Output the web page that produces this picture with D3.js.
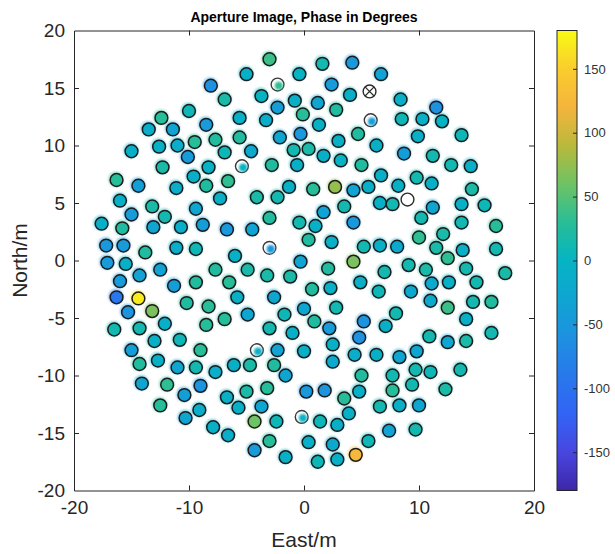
<!DOCTYPE html>
<html>
<head>
<meta charset="utf-8">
<script src="https://cdn.jsdelivr.net/npm/d3@7"></script>
<style>
  body { margin: 0; background: #fff; }
  text { font-family: "Liberation Sans", Arial, Helvetica, sans-serif; }
</style>
</head>
<body>
<svg id="chart" width="615" height="554"></svg>
<script>
// Antenna positions (metres east / north of array centre) and aperture phase (degrees)
const east = [
  -3.0, 1.6, 4.2, 6.7, -5.0, -0.4, 2.4, -3.7, 4.0, -8.1,
  -6.9, -0.8, -2.3, 1.2, -10.0, -12.4, -13.5, -11.4, -8.5, -11.0,
  -9.5, -7.7, -12.6, -15.0, -10.1, -12.3, -8.3, -9.6, -16.3, -14.4,
  -11.1, -8.5, -6.9, -6.6, -5.6, -3.3, -0.1, 2.8, 1.3, -5.6,
  -2.1, -0.3, 4.7, 3.0, 6.3, -4.6, -0.9, 0.4, 1.7, 3.2,
  5.0, -2.8, -0.6, -1.3, 0.8, 2.7, 4.3, 5.6, 8.4, 11.5,
  8.5, 10.3, 12.0, 13.7, 9.9, 8.7, 11.2, 12.8, 14.5, 6.7,
  9.8, 8.2, 11.1, 14.6, -7.3, -16.0, -13.2, -15.0, -12.1, -9.4,
  -17.6, -15.8, -13.1, -10.7, -8.8, -6.7, -17.2, -15.7, -13.8, -11.1,
  -9.4, -17.1, -15.5, -12.5, -7.7, -16.0, -14.3, -11.3, -9.4, -16.3,
  -14.4, -10.2, -13.2, -8.3, -15.3, -16.5, -14.3, -12.1, -8.5, -6.9,
  -13.0, -10.8, -4.1, -2.3, 3.5, 1.7, -3.0, -0.4, 1.0, 4.3,
  -4.5, 0.4, 2.4, 5.2, 6.6, -6.0, -0.3, 4.3, 2.1, -4.9,
  -3.2, -1.2, -6.5, 4.9, 0.7, 2.3, 6.5, -5.8, -2.6, -4.9,
  -1.7, 0.0, 2.8, 0.9, 5.2, -3.0, -1.0, 2.2, 4.8, 6.6,
  7.7, 11.2, 13.7, 15.7, 10.2, 13.7, 16.7, 10.0, 12.1, 8.1,
  11.5, 13.8, 16.7, 12.5, 9.1, 10.6, 14.1, 7.0, 17.5, 12.6,
  15.0, 11.1, 9.3, 11.0, 12.5, 14.7, 16.3, 8.0, 14.1, 7.1,
  10.9, 16.3, 12.5, 14.1, -15.0, -9.0, -14.3, -12.7, -11.0, -9.4,
  -7.7, -14.1, -11.9, -10.4, -9.0, -6.7, -12.5, -10.3, -9.1, -7.9,
  -6.6, -2.3, 0.0, 2.5, -6.1, -4.7, -2.6, -1.6, 2.5, 4.4,
  6.3, 5.0, -5.0, -3.2, 0.2, 1.8, 3.5, 4.8, -5.7, -3.7,
  1.4, 2.9, 3.9, 6.6, -4.3, -2.4, -3.0, 0.4, 2.5, 5.6,
  -4.3, -1.6, 1.2, 2.9, 4.5, 8.3, 9.8, 7.7, 9.7, 11.0,
  13.6, 7.7, 9.4, 12.3, 8.3, 10.0, 7.4, 9.7
];
const north = [
  17.5, 17.1, 17.2, 16.2, 16.2, 16.2, 15.3, 14.3, 14.4, 15.2,
  14.0, 13.9, 13.3, 13.7, 13.0, 12.4, 11.4, 11.4, 11.8, 10.0,
  10.3, 10.5, 9.9, 9.5, 9.0, 8.1, 8.1, 7.3, 7.0, 6.5,
  6.3, 6.5, 9.4, 6.9, 12.4, 12.2, 12.7, 13.1, 11.8, 10.7,
  10.7, 11.0, 11.0, 10.4, 10.0, 9.5, 9.6, 9.7, 9.1, 8.7,
  8.3, 8.3, 8.3, 6.4, 6.2, 6.4, 6.1, 6.4, 14.0, 13.3,
  12.3, 12.3, 12.1, 10.9, 10.8, 9.3, 9.1, 8.3, 8.2, 7.4,
  7.2, 6.5, 6.7, 6.2, 5.4, 5.2, 4.7, 4.0, 3.8, 4.5,
  3.2, 2.8, 2.9, 2.9, 3.1, 2.7, 1.3, 1.3, 0.7, 1.1,
  1.0, -0.2, -0.3, -0.8, -0.8, -1.8, -1.3, -2.2, -1.9, -3.2,
  -3.3, -3.7, -4.4, -4.0, -4.5, -6.0, -5.9, -5.5, -5.6, -5.1,
  -7.0, -6.9, 5.5, 5.5, 4.7, 4.2, 3.7, 3.3, 3.0, 3.3,
  2.7, 1.8, 1.6, 1.2, 1.3, 0.4, -0.1, -0.1, -0.7, -0.8,
  -1.3, -1.4, -1.9, -1.9, -2.5, -2.4, -2.7, -3.2, -3.2, -4.7,
  -4.7, -4.2, -4.1, -5.3, -5.3, -5.9, -6.3, -5.9, -6.7, 5.0,
  4.9, 4.6, 4.9, 4.8, 3.7, 3.3, 3.0, 2.0, 2.3, 1.2,
  1.1, 0.9, 1.0, 0.2, -0.4, -0.8, -0.7, -1.0, -1.1, -1.9,
  -1.9, -2.0, -2.7, -3.5, -4.1, -3.6, -3.6, -4.6, -5.1, -5.7,
  -6.6, -6.3, -7.1, -7.0, -7.8, -7.8, -9.0, -8.7, -9.3, -9.3,
  -9.7, -10.7, -10.8, -11.7, -10.9, -11.9, -12.6, -13.7, -13.0, -14.5,
  -15.2, -7.8, -7.9, -7.3, -9.1, -9.1, -9.1, -10.0, -8.8, -8.2,
  -8.2, -10.0, -11.4, -11.1, -11.4, -11.3, -12.0, -11.4, -12.8, -12.7,
  -14.0, -14.3, -13.3, -12.7, -14.0, -14.0, -15.7, -15.8, -16.0, -15.7,
  -16.5, -17.1, -17.5, -17.3, -16.9, -8.4, -7.9, -10.0, -9.5, -9.7,
  -9.5, -11.3, -10.8, -11.2, -12.6, -12.6, -14.8, -14.7
];
const phase = [
  38, 12, -50, -33, -8, -3, -45, 0, -8, -60,
  18, -8, -40, -28, 8, 28, -14, -33, -45, -14,
  28, 24, -8, -8, -45, 18, -3, -8, 28, -40,
  -14, 24, 8, 32, -8, -14, 28, 24, -8, 24,
  -28, -50, 24, -8, -8, -22, 12, 18, -8, -3,
  24, 24, -8, -8, 28, 75, -33, -8, -8, -60,
  8, -8, 0, 8, -8, -40, 12, 12, -8, -8,
  12, -8, -8, 18, -8, -8, 18, -45, 12, -28,
  -8, 24, -28, -14, -40, -50, -50, -45, 24, -14,
  8, -45, -8, -33, 24, -45, -35, -40, 24, -90,
  170, 24, 65, 28, -55, 12, 12, -8, 28, 28,
  -8, 8, 18, 12, 12, -33, 24, 12, -8, -50,
  -33, 24, -8, 12, -8, -8, -28, 65, 24, 18,
  18, 18, 28, -8, 24, -8, 8, -8, -28, -28,
  8, -28, 12, 24, -55, 12, -8, -45, -60, -8,
  12, -28, -8, 8, 12, 12, 28, 32, 18, -22,
  18, -8, 12, 32, 12, 18, 12, 12, 18, -8,
  12, -22, -22, -22, 38, 12, 24, 12, -8, -8,
  12, 12, -28, 18, -40, 28, 24, -8, -28, 12,
  -14, -28, 32, -40, -55, -8, 28, -28, -14, -8,
  -14, -33, -8, -8, -8, 18, 24, -28, -22, -14,
  -8, 24, 18, 28, -50, -55, 28, -8, -8, -28,
  8, -8, -8, 12, 60, 8, 28, -8, -22, 8,
  -45, -8, 8, -8, 125, -28, -28, 12, 12, 8,
  12, 28, 12, 18, -8, -28, -33, 12
];

// Antennas whose marker is only partly filled
const partEast  = [-2.3, 5.8, -5.4, -3.0, -4.1, -0.2];
const partNorth = [15.3, 12.2, 8.2, 1.1, -7.8, -13.6];
const partPhase = [32, -40, -3, -50, -8, -8];

// Antennas with no phase solution (open marker) and the reference antenna (crossed marker)
const emptyEast = [9.0], emptyNorth = [5.3];
const refEast = [5.7], refNorth = [14.7];

// Axis and colour-bar ticks
const xTicks = [-20, -10, 0, 10, 20];
const yTicks = [-20, -15, -10, -5, 0, 5, 10, 15, 20];
const cbTicks = [-150, -100, -50, 0, 50, 100, 150];
const cbDomain = [-180, 180];

// Parula-style colour ramp, one stop every 30 degrees from -180 to 180
const rampStops = ["#3e26a8", "#4846e0", "#3264f5", "#2878eb", "#1e91e1", "#0fa5d2",
                   "#05b4c3", "#28be96", "#6ec364", "#b9b93c", "#f5b43c", "#facd2d", "#f9fb14"];

const svg = d3.select("#chart");
const plot = { left: 74, right: 534, top: 30.5, bottom: 490.5 };

const x = d3.scaleLinear().domain([-20, 20]).range([plot.left, plot.right]);
const y = d3.scaleLinear().domain([-20, 20]).range([plot.bottom, plot.top]);
const color = d3.scaleLinear()
  .domain(d3.range(rampStops.length).map(i => cbDomain[0] + i * (cbDomain[1] - cbDomain[0]) / (rampStops.length - 1)))
  .range(rampStops)
  .interpolate(d3.interpolateRgb)
  .clamp(true);

const defs = svg.append("defs");
defs.append("filter").attr("id", "soft")
  .attr("x", "-50%").attr("y", "-50%").attr("width", "200%").attr("height", "200%")
  .append("feGaussianBlur").attr("stdDeviation", 0.9);

// Title
svg.append("text")
  .attr("x", (plot.left + plot.right) / 2).attr("y", 22)
  .attr("text-anchor", "middle")
  .attr("font-size", 14).attr("font-weight", "bold").attr("fill", "#000")
  .text("Aperture Image, Phase in Degrees");

// Axes (ticks point inward on all four sides)
const axisColor = "#262626";
const plain = d => String(d);
const gx = svg.append("g").attr("transform", `translate(0,${plot.bottom})`)
  .call(d3.axisBottom(x).tickValues(xTicks).tickSize(-5).tickSizeOuter(0).tickPadding(10).tickFormat(plain));
const gxt = svg.append("g").attr("transform", `translate(0,${plot.top})`)
  .call(d3.axisTop(x).tickValues(xTicks).tickSize(-5).tickSizeOuter(0).tickFormat(""));
const gy = svg.append("g").attr("transform", `translate(${plot.left},0)`)
  .call(d3.axisLeft(y).tickValues(yTicks).tickSize(-5).tickSizeOuter(0).tickPadding(9).tickFormat(plain));
const gyr = svg.append("g").attr("transform", `translate(${plot.right},0)`)
  .call(d3.axisRight(y).tickValues(yTicks).tickSize(-5).tickSizeOuter(0).tickFormat(""));
[gx, gxt, gy, gyr].forEach(g => {
  g.selectAll("path.domain").attr("stroke", axisColor).attr("stroke-width", 1);
  g.selectAll(".tick line").attr("stroke", axisColor).attr("stroke-width", 1);
  g.selectAll(".tick text").attr("fill", "#262626").attr("font-size", 19)
    .attr("font-family", "'Liberation Sans', Arial, sans-serif");
  // end ticks would sit on the frame itself
  g.selectAll(".tick line").filter(d => d === -20 || d === 20).remove();
});

// Axis labels
svg.append("text")
  .attr("x", (plot.left + plot.right) / 2).attr("y", 547)
  .attr("text-anchor", "middle").attr("font-size", 21).attr("fill", "#262626")
  .text("East/m");
svg.append("text")
  .attr("transform", `translate(27,${(plot.top + plot.bottom) / 2}) rotate(-90)`)
  .attr("text-anchor", "middle").attr("font-size", 21).attr("fill", "#262626")
  .text("North/m");

// Antenna markers
const R = 6.4;
const pts = d3.range(east.length).map(i => ({ e: east[i], n: north[i], p: phase[i] }));
const markers = svg.append("g");

// faint colour fringe around each marker
markers.selectAll("circle.halo").data(pts).join("circle")
  .attr("class", "halo")
  .attr("cx", d => x(d.e) - 0.6).attr("cy", d => y(d.n) - 0.8)
  .attr("r", R + 1.3)
  .attr("fill", d => color(d.p)).attr("opacity", 0.5)
  .attr("filter", "url(#soft)");

markers.selectAll("circle.ant").data(pts).join("circle")
  .attr("class", "ant")
  .attr("cx", d => x(d.e)).attr("cy", d => y(d.n))
  .attr("r", R)
  .attr("fill", d => color(d.p))
  .attr("stroke", "#1c1c1c").attr("stroke-width", 1.5);

// partly filled markers
const parts = d3.range(partEast.length).map(i => ({ e: partEast[i], n: partNorth[i], p: partPhase[i] }));
const pg = markers.selectAll("g.part").data(parts).join("g").attr("class", "part")
  .attr("transform", d => `translate(${x(d.e)},${y(d.n)})`);
pg.append("circle").attr("r", R).attr("fill", "#fff").attr("stroke", "#3a3a3a").attr("stroke-width", 1.4);
pg.append("circle").attr("cx", 1.2).attr("cy", 1.2).attr("r", 4.0)
  .attr("fill", d => color(d.p)).attr("filter", "url(#soft)");

// open markers
const empties = d3.range(emptyEast.length).map(i => ({ e: emptyEast[i], n: emptyNorth[i] }));
markers.selectAll("circle.empty").data(empties).join("circle")
  .attr("class", "empty")
  .attr("cx", d => x(d.e)).attr("cy", d => y(d.n)).attr("r", R)
  .attr("fill", "#fff").attr("stroke", "#2a2a2a").attr("stroke-width", 1.4);

// reference antenna: crossed circle
const refs = d3.range(refEast.length).map(i => ({ e: refEast[i], n: refNorth[i] }));
const rg = markers.selectAll("g.ref").data(refs).join("g").attr("class", "ref")
  .attr("transform", d => `translate(${x(d.e)},${y(d.n)})`);
rg.append("circle").attr("r", R).attr("fill", "#fff").attr("stroke", "#2a2a2a").attr("stroke-width", 1.4);
const k = R * Math.SQRT1_2;
rg.append("path").attr("d", `M${-k},${-k}L${k},${k}M${-k},${k}L${k},${-k}`)
  .attr("stroke", "#2a2a2a").attr("stroke-width", 1.2);

// Colour bar
const cb = { left: 557, width: 20, top: plot.top, bottom: plot.bottom };
const cy = d3.scaleLinear().domain(cbDomain).range([cb.bottom, cb.top]);
const grad = defs.append("linearGradient").attr("id", "ramp")
  .attr("x1", 0).attr("y1", 1).attr("x2", 0).attr("y2", 0);
rampStops.forEach((c, i) => grad.append("stop")
  .attr("offset", i / (rampStops.length - 1)).attr("stop-color", c));
svg.append("rect")
  .attr("x", cb.left).attr("y", cb.top)
  .attr("width", cb.width).attr("height", cb.bottom - cb.top)
  .attr("fill", "url(#ramp)").attr("stroke", axisColor).attr("stroke-width", 1);
const gcb = svg.append("g").attr("transform", `translate(${cb.left + cb.width},0)`)
  .call(d3.axisRight(cy).tickValues(cbTicks).tickSize(-4).tickSizeOuter(0).tickPadding(7).tickFormat(plain));
gcb.select("path.domain").remove();
gcb.selectAll(".tick line").attr("stroke", axisColor);
gcb.selectAll(".tick text").attr("fill", "#333").attr("font-size", 13)
  .attr("font-family", "'Liberation Serif', 'DejaVu Serif', serif");
</script>
</body>
</html>
